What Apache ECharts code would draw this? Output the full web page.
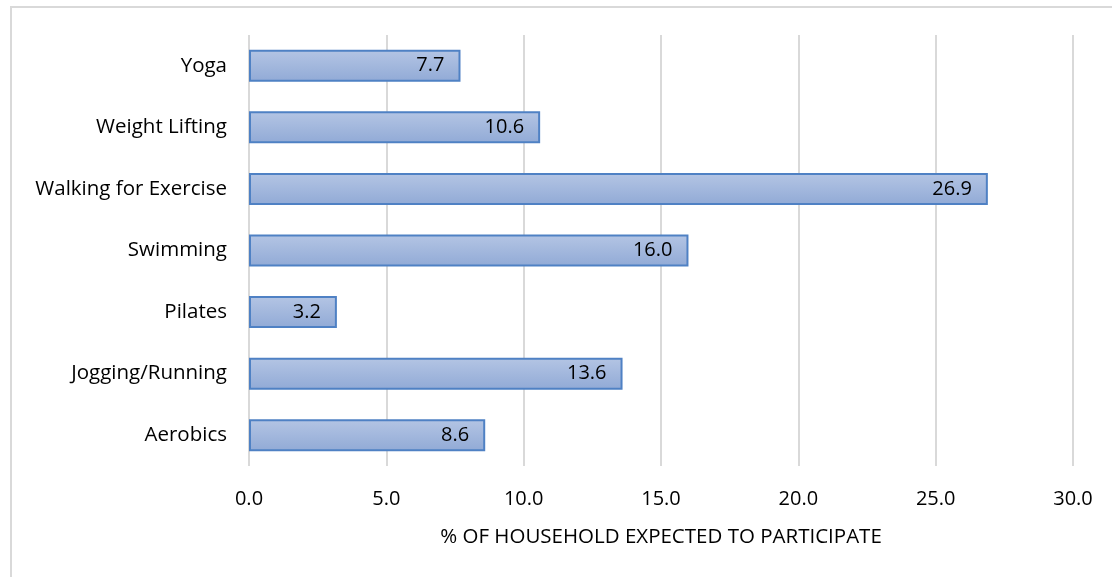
<!DOCTYPE html>
<html>
<head>
<meta charset="utf-8">
<script src="https://cdn.jsdelivr.net/npm/echarts@6/dist/echarts.min.js"></script>
<style>html,body{margin:0;padding:0;background:#fff;}#c{width:1112px;height:577px;}</style>
</head>
<body>
<div id="c"></div>
<script>
const categories = ["Aerobics", "Jogging/Running", "Pilates", "Swimming", "Walking for Exercise", "Weight Lifting", "Yoga"];
const values = [8.6, 13.6, 3.2, 16.0, 26.9, 10.6, 7.7];
const xTicks = { min: 0, max: 30, interval: 5 };
const axisTitle = "% OF HOUSEHOLD EXPECTED TO PARTICIPATE";

const FONT = "'Open Sans', sans-serif";
const chart = echarts.init(document.getElementById('c'), null, { renderer: 'canvas' });
chart.setOption({
  animation: false,
  backgroundColor: '#ffffff',
  graphic: [{
    type: 'rect', shape: { x: 11, y: 7, width: 1300, height: 800 },
    style: { fill: 'none', stroke: '#d9d9d9', lineWidth: 2 }, z: -1
  }],
  grid: { left: 249, right: 39, top: 35, bottom: 111, containLabel: false },
  xAxis: {
    type: 'value', min: xTicks.min, max: xTicks.max, interval: xTicks.interval,
    axisLine: { show: false }, axisTick: { show: false },
    splitLine: { show: true, lineStyle: { color: '#d9d9d9', width: 2 } },
    axisLabel: { color: '#000', fontFamily: FONT, fontSize: 20, margin: 23, formatter: v => v.toFixed(1) },
    name: axisTitle, nameLocation: 'middle', nameGap: 61,
    nameTextStyle: { color: '#000', fontFamily: FONT, fontSize: 20.5 }
  },
  yAxis: {
    type: 'category', data: categories,
    axisLine: { show: false }, axisTick: { show: false },
    axisLabel: { color: '#000', fontFamily: FONT, fontSize: 20.5, margin: 22 }
  },
  series: [{
    type: 'bar', data: values, barWidth: 32,
    itemStyle: {
      color: new echarts.graphic.LinearGradient(0, 0, 0, 1, [
        { offset: 0, color: '#b4c5e4' },
        { offset: 1, color: '#91aad6' }
      ]),
      borderColor: '#4f81c4', borderWidth: 2
    },
    label: {
      show: true, position: 'insideRight', distance: 16, color: '#000',
      fontFamily: FONT, fontSize: 20, formatter: p => p.value.toFixed(1)
    }
  }]
});
</script>
</body>
</html>
